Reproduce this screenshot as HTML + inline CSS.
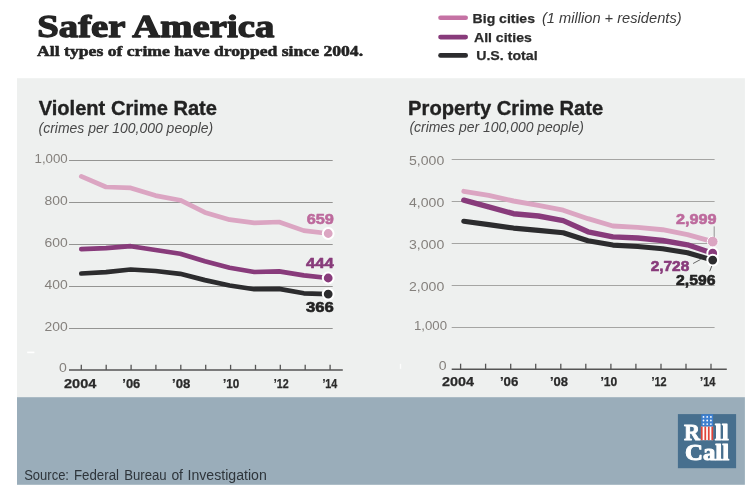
<!DOCTYPE html>
<html><head><meta charset="utf-8"><title>Safer America</title>
<style>html,body{margin:0;padding:0;background:#fff;}body{width:748px;height:487px;overflow:hidden;font-family:"Liberation Sans",sans-serif;}</style></head>
<body>
<svg width="748" height="487" viewBox="0 0 748 487" style="display:block;will-change:transform">
<rect x="17" y="78.2" width="727.9" height="319.5" fill="#eef0ef"/>
<rect x="17" y="397.2" width="727.9" height="87.6" fill="#9aadba"/>
<text x="37.3" y="36.5" textLength="237.0" lengthAdjust="spacingAndGlyphs" stroke="#242424" stroke-width="1.3" stroke-linejoin="round" font-family="'Liberation Serif', serif" font-size="32.3" font-weight="bold" font-style="normal" fill="#242424" text-anchor="start">Safer America</text>
<text x="37.1" y="55.8" textLength="326.0" lengthAdjust="spacingAndGlyphs" stroke="#242424" stroke-width="0.55" stroke-linejoin="round" font-family="'Liberation Serif', serif" font-size="15.5" font-weight="bold" font-style="normal" fill="#242424" text-anchor="start">All types of crime have dropped since 2004.</text>
<line x1="440.5" y1="17.8" x2="465.7" y2="17.8" stroke="#c572a4" stroke-width="4.6" stroke-linecap="round"/>
<line x1="440.5" y1="37.1" x2="465.7" y2="37.1" stroke="#883b7b" stroke-width="4.6" stroke-linecap="round"/>
<line x1="440.5" y1="55.4" x2="465.7" y2="55.4" stroke="#2c2c2e" stroke-width="4.6" stroke-linecap="round"/>
<text x="472.6" y="22.5" textLength="62.4" lengthAdjust="spacingAndGlyphs" stroke="#2a2a2a" stroke-width="0.25" stroke-linejoin="round" font-family="'Liberation Sans', sans-serif" font-size="13.5" font-weight="bold" font-style="normal" fill="#2a2a2a" text-anchor="start">Big cities</text>
<text x="541.9" y="22.5" textLength="139.7" lengthAdjust="spacingAndGlyphs" font-family="'Liberation Sans', sans-serif" font-size="15" font-weight="normal" font-style="italic" fill="#3c3c3c" text-anchor="start">(1 million + residents)</text>
<text x="474" y="41.6" textLength="57.8" lengthAdjust="spacingAndGlyphs" stroke="#2a2a2a" stroke-width="0.25" stroke-linejoin="round" font-family="'Liberation Sans', sans-serif" font-size="13.5" font-weight="bold" font-style="normal" fill="#2a2a2a" text-anchor="start">All cities</text>
<text x="476.2" y="59.6" textLength="61.4" lengthAdjust="spacingAndGlyphs" stroke="#2a2a2a" stroke-width="0.25" stroke-linejoin="round" font-family="'Liberation Sans', sans-serif" font-size="13.5" font-weight="bold" font-style="normal" fill="#2a2a2a" text-anchor="start">U.S. total</text>
<text x="38.7" y="114.6" textLength="178.3" lengthAdjust="spacingAndGlyphs" stroke="#222" stroke-width="0.35" stroke-linejoin="round" font-family="'Liberation Sans', sans-serif" font-size="20" font-weight="bold" font-style="normal" fill="#222" text-anchor="start">Violent Crime Rate</text>
<text x="38.6" y="132.8" textLength="174.6" lengthAdjust="spacingAndGlyphs" font-family="'Liberation Sans', sans-serif" font-size="14" font-weight="normal" font-style="italic" fill="#484848" text-anchor="start">(crimes per 100,000 people)</text>
<text x="408.1" y="114.5" textLength="195.2" lengthAdjust="spacingAndGlyphs" stroke="#222" stroke-width="0.35" stroke-linejoin="round" font-family="'Liberation Sans', sans-serif" font-size="20" font-weight="bold" font-style="normal" fill="#222" text-anchor="start">Property Crime Rate</text>
<text x="409.4" y="132.2" textLength="174.4" lengthAdjust="spacingAndGlyphs" font-family="'Liberation Sans', sans-serif" font-size="14" font-weight="normal" font-style="italic" fill="#484848" text-anchor="start">(crimes per 100,000 people)</text>
<line x1="69" y1="160.5" x2="332.7" y2="160.5" stroke="#949492" stroke-width="1"/>
<text x="34.5" y="162.5" textLength="33.2" lengthAdjust="spacingAndGlyphs" font-family="'Liberation Sans', sans-serif" font-size="12.5" font-weight="normal" font-style="normal" fill="#85817d" text-anchor="start">1,000</text>
<line x1="69" y1="202.5" x2="332.7" y2="202.5" stroke="#949492" stroke-width="1"/>
<text x="44.5" y="204.5" textLength="23.2" lengthAdjust="spacingAndGlyphs" font-family="'Liberation Sans', sans-serif" font-size="12.5" font-weight="normal" font-style="normal" fill="#85817d" text-anchor="start">800</text>
<line x1="69" y1="244.5" x2="332.7" y2="244.5" stroke="#949492" stroke-width="1"/>
<text x="44.5" y="246.5" textLength="23.2" lengthAdjust="spacingAndGlyphs" font-family="'Liberation Sans', sans-serif" font-size="12.5" font-weight="normal" font-style="normal" fill="#85817d" text-anchor="start">600</text>
<line x1="69" y1="286.5" x2="332.7" y2="286.5" stroke="#949492" stroke-width="1"/>
<text x="44.5" y="288.5" textLength="23.2" lengthAdjust="spacingAndGlyphs" font-family="'Liberation Sans', sans-serif" font-size="12.5" font-weight="normal" font-style="normal" fill="#85817d" text-anchor="start">400</text>
<line x1="69" y1="328.5" x2="332.7" y2="328.5" stroke="#949492" stroke-width="1"/>
<text x="44.5" y="330.5" textLength="23.2" lengthAdjust="spacingAndGlyphs" font-family="'Liberation Sans', sans-serif" font-size="12.5" font-weight="normal" font-style="normal" fill="#85817d" text-anchor="start">200</text>
<text x="59" y="372.3" textLength="7.8" lengthAdjust="spacingAndGlyphs" font-family="'Liberation Sans', sans-serif" font-size="12.5" font-weight="normal" font-style="normal" fill="#85817d" text-anchor="start">0</text>
<line x1="69" y1="369.9" x2="342.8" y2="369.9" stroke="#555" stroke-width="1.5"/>
<line x1="81.3" y1="364.8" x2="81.3" y2="369.9" stroke="#555" stroke-width="1.3"/>
<line x1="106.2" y1="364.8" x2="106.2" y2="369.9" stroke="#555" stroke-width="1.3"/>
<line x1="131.1" y1="364.8" x2="131.1" y2="369.9" stroke="#555" stroke-width="1.3"/>
<line x1="155.9" y1="364.8" x2="155.9" y2="369.9" stroke="#555" stroke-width="1.3"/>
<line x1="180.8" y1="364.8" x2="180.8" y2="369.9" stroke="#555" stroke-width="1.3"/>
<line x1="205.7" y1="364.8" x2="205.7" y2="369.9" stroke="#555" stroke-width="1.3"/>
<line x1="230.6" y1="364.8" x2="230.6" y2="369.9" stroke="#555" stroke-width="1.3"/>
<line x1="255.5" y1="364.8" x2="255.5" y2="369.9" stroke="#555" stroke-width="1.3"/>
<line x1="280.3" y1="364.8" x2="280.3" y2="369.9" stroke="#555" stroke-width="1.3"/>
<line x1="305.2" y1="364.8" x2="305.2" y2="369.9" stroke="#555" stroke-width="1.3"/>
<line x1="330.1" y1="364.8" x2="330.1" y2="369.9" stroke="#555" stroke-width="1.3"/>
<text x="64" y="388.3" textLength="32.3" lengthAdjust="spacingAndGlyphs" stroke="#2a2a2a" stroke-width="0.25" stroke-linejoin="round" font-family="'Liberation Sans', sans-serif" font-size="13" font-weight="bold" font-style="normal" fill="#2a2a2a" text-anchor="start">2004</text>
<text x="122.3" y="388.3" textLength="18.0" lengthAdjust="spacingAndGlyphs" stroke="#2a2a2a" stroke-width="0.25" stroke-linejoin="round" font-family="'Liberation Sans', sans-serif" font-size="13" font-weight="bold" font-style="normal" fill="#2a2a2a" text-anchor="start">’06</text>
<text x="172.1" y="388.3" textLength="18.3" lengthAdjust="spacingAndGlyphs" stroke="#2a2a2a" stroke-width="0.25" stroke-linejoin="round" font-family="'Liberation Sans', sans-serif" font-size="13" font-weight="bold" font-style="normal" fill="#2a2a2a" text-anchor="start">’08</text>
<text x="223" y="388.3" textLength="16.3" lengthAdjust="spacingAndGlyphs" stroke="#2a2a2a" stroke-width="0.25" stroke-linejoin="round" font-family="'Liberation Sans', sans-serif" font-size="13" font-weight="bold" font-style="normal" fill="#2a2a2a" text-anchor="start">’10</text>
<text x="273.8" y="388.3" textLength="14.9" lengthAdjust="spacingAndGlyphs" stroke="#2a2a2a" stroke-width="0.25" stroke-linejoin="round" font-family="'Liberation Sans', sans-serif" font-size="13" font-weight="bold" font-style="normal" fill="#2a2a2a" text-anchor="start">’12</text>
<text x="322.4" y="388.3" textLength="14.9" lengthAdjust="spacingAndGlyphs" stroke="#2a2a2a" stroke-width="0.25" stroke-linejoin="round" font-family="'Liberation Sans', sans-serif" font-size="13" font-weight="bold" font-style="normal" fill="#2a2a2a" text-anchor="start">’14</text>
<line x1="451.7" y1="159.5" x2="714.6" y2="159.5" stroke="#a5a5a3" stroke-width="1"/>
<text x="409.0" y="164.9" textLength="35.2" lengthAdjust="spacingAndGlyphs" font-family="'Liberation Sans', sans-serif" font-size="12.5" font-weight="normal" font-style="normal" fill="#85817d" text-anchor="start">5,000</text>
<line x1="451.7" y1="201.5" x2="714.6" y2="201.5" stroke="#a5a5a3" stroke-width="1"/>
<text x="409.0" y="206.9" textLength="35.2" lengthAdjust="spacingAndGlyphs" font-family="'Liberation Sans', sans-serif" font-size="12.5" font-weight="normal" font-style="normal" fill="#85817d" text-anchor="start">4,000</text>
<line x1="451.7" y1="243.5" x2="714.6" y2="243.5" stroke="#a5a5a3" stroke-width="1"/>
<text x="409.0" y="248.9" textLength="35.2" lengthAdjust="spacingAndGlyphs" font-family="'Liberation Sans', sans-serif" font-size="12.5" font-weight="normal" font-style="normal" fill="#85817d" text-anchor="start">3,000</text>
<line x1="451.7" y1="285.5" x2="714.6" y2="285.5" stroke="#a5a5a3" stroke-width="1"/>
<text x="409.0" y="290.9" textLength="35.2" lengthAdjust="spacingAndGlyphs" font-family="'Liberation Sans', sans-serif" font-size="12.5" font-weight="normal" font-style="normal" fill="#85817d" text-anchor="start">2,000</text>
<line x1="451.7" y1="327.5" x2="714.6" y2="327.5" stroke="#a5a5a3" stroke-width="1"/>
<text x="414.0" y="329.6" textLength="33" lengthAdjust="spacingAndGlyphs" font-family="'Liberation Sans', sans-serif" font-size="12.5" font-weight="normal" font-style="normal" fill="#85817d" text-anchor="start">1,000</text>
<text x="438.8" y="369.7" textLength="7.8" lengthAdjust="spacingAndGlyphs" font-family="'Liberation Sans', sans-serif" font-size="12.5" font-weight="normal" font-style="normal" fill="#85817d" text-anchor="start">0</text>
<line x1="451.7" y1="369.15" x2="726.8" y2="369.15" stroke="#555" stroke-width="1.5"/>
<line x1="460.6" y1="363.7" x2="460.6" y2="369.15" stroke="#555" stroke-width="1.3"/>
<line x1="485.6" y1="363.7" x2="485.6" y2="369.15" stroke="#555" stroke-width="1.3"/>
<line x1="510.7" y1="363.7" x2="510.7" y2="369.15" stroke="#555" stroke-width="1.3"/>
<line x1="535.7" y1="363.7" x2="535.7" y2="369.15" stroke="#555" stroke-width="1.3"/>
<line x1="560.8" y1="363.7" x2="560.8" y2="369.15" stroke="#555" stroke-width="1.3"/>
<line x1="585.8" y1="363.7" x2="585.8" y2="369.15" stroke="#555" stroke-width="1.3"/>
<line x1="610.9" y1="363.7" x2="610.9" y2="369.15" stroke="#555" stroke-width="1.3"/>
<line x1="635.9" y1="363.7" x2="635.9" y2="369.15" stroke="#555" stroke-width="1.3"/>
<line x1="661.0" y1="363.7" x2="661.0" y2="369.15" stroke="#555" stroke-width="1.3"/>
<line x1="686.0" y1="363.7" x2="686.0" y2="369.15" stroke="#555" stroke-width="1.3"/>
<line x1="711.0" y1="363.7" x2="711.0" y2="369.15" stroke="#555" stroke-width="1.3"/>
<text x="442.1" y="386.3" textLength="32.0" lengthAdjust="spacingAndGlyphs" stroke="#2a2a2a" stroke-width="0.25" stroke-linejoin="round" font-family="'Liberation Sans', sans-serif" font-size="13" font-weight="bold" font-style="normal" fill="#2a2a2a" text-anchor="start">2004</text>
<text x="499.9" y="386.3" textLength="18.5" lengthAdjust="spacingAndGlyphs" stroke="#2a2a2a" stroke-width="0.25" stroke-linejoin="round" font-family="'Liberation Sans', sans-serif" font-size="13" font-weight="bold" font-style="normal" fill="#2a2a2a" text-anchor="start">’06</text>
<text x="549.9" y="386.3" textLength="18.1" lengthAdjust="spacingAndGlyphs" stroke="#2a2a2a" stroke-width="0.25" stroke-linejoin="round" font-family="'Liberation Sans', sans-serif" font-size="13" font-weight="bold" font-style="normal" fill="#2a2a2a" text-anchor="start">’08</text>
<text x="600.5" y="386.3" textLength="16.8" lengthAdjust="spacingAndGlyphs" stroke="#2a2a2a" stroke-width="0.25" stroke-linejoin="round" font-family="'Liberation Sans', sans-serif" font-size="13" font-weight="bold" font-style="normal" fill="#2a2a2a" text-anchor="start">’10</text>
<text x="651.5" y="386.3" textLength="15.2" lengthAdjust="spacingAndGlyphs" stroke="#2a2a2a" stroke-width="0.25" stroke-linejoin="round" font-family="'Liberation Sans', sans-serif" font-size="13" font-weight="bold" font-style="normal" fill="#2a2a2a" text-anchor="start">’12</text>
<text x="700.1" y="386.3" textLength="15.4" lengthAdjust="spacingAndGlyphs" stroke="#2a2a2a" stroke-width="0.25" stroke-linejoin="round" font-family="'Liberation Sans', sans-serif" font-size="13" font-weight="bold" font-style="normal" fill="#2a2a2a" text-anchor="start">’14</text>
<path d="M81.3,176.4 L106.0,187.0 L130.7,187.9 L155.5,195.6 L180.2,200.2 L204.9,212.4 L229.6,219.7 L254.3,222.8 L279.1,222.0 L303.8,230.6 L328.2,233.5" fill="none" stroke="#dba5c2" stroke-width="4.7" stroke-linecap="round" stroke-linejoin="round"/><circle cx="328.2" cy="233.5" r="5.4" fill="#dba5c2" stroke="#fff" stroke-width="2.0"/>
<path d="M81.3,249.1 L106.0,248.2 L130.7,246.2 L155.5,250.0 L180.2,253.7 L204.9,261.2 L229.6,267.7 L254.3,272.0 L279.1,271.4 L303.8,275.4 L328.2,278.0" fill="none" stroke="#883b7b" stroke-width="4.7" stroke-linecap="round" stroke-linejoin="round"/><circle cx="328.2" cy="278.0" r="5.4" fill="#883b7b" stroke="#fff" stroke-width="2.0"/>
<path d="M81.3,273.5 L106.0,272.1 L130.7,269.5 L155.5,271.0 L180.2,273.8 L204.9,280.1 L229.6,285.5 L254.3,289.2 L279.1,288.9 L303.8,293.3 L328.2,294.1" fill="none" stroke="#2c2c2e" stroke-width="4.7" stroke-linecap="round" stroke-linejoin="round"/><circle cx="328.2" cy="294.1" r="5.4" fill="#2c2c2e" stroke="#fff" stroke-width="2.0"/>
<path d="M463.8,191.3 L488.7,195.3 L513.5,201.0 L538.4,205.4 L563.2,210.2 L588.0,218.7 L612.9,226.0 L637.8,227.4 L662.6,229.7 L687.5,234.6 L712.7,241.6" fill="none" stroke="#dba5c2" stroke-width="4.9" stroke-linecap="round" stroke-linejoin="round"/><circle cx="712.7" cy="241.6" r="5.4" fill="#dba5c2" stroke="#fff" stroke-width="1.0"/>
<path d="M463.8,200.2 L488.7,206.8 L513.5,213.7 L538.4,216.0 L563.2,220.6 L588.0,231.8 L612.9,236.9 L637.8,238.0 L662.6,240.5 L687.5,244.8 L712.7,253.2" fill="none" stroke="#883b7b" stroke-width="5.4" stroke-linecap="round" stroke-linejoin="round"/><circle cx="712.7" cy="253.2" r="5.4" fill="#883b7b" stroke="#fff" stroke-width="2.0"/>
<path d="M463.8,221.2 L488.7,224.6 L513.5,228.1 L538.4,230.4 L563.2,232.7 L588.0,240.7 L612.9,245.1 L637.8,246.5 L662.6,248.8 L687.5,252.8 L712.7,260.1" fill="none" stroke="#2c2c2e" stroke-width="5.1" stroke-linecap="round" stroke-linejoin="round"/><circle cx="712.7" cy="260.1" r="5.4" fill="#2c2c2e" stroke="#fff" stroke-width="2.0"/>
<text x="306.7" y="223.7" textLength="27.2" lengthAdjust="spacingAndGlyphs" stroke="#bd6a9d" stroke-width="0.6" stroke-linejoin="round" font-family="'Liberation Sans', sans-serif" font-size="14.3" font-weight="bold" font-style="normal" fill="#bd6a9d" text-anchor="start">659</text>
<text x="306.1" y="267.7" textLength="27.8" lengthAdjust="spacingAndGlyphs" stroke="#883b7b" stroke-width="0.6" stroke-linejoin="round" font-family="'Liberation Sans', sans-serif" font-size="14.3" font-weight="bold" font-style="normal" fill="#883b7b" text-anchor="start">444</text>
<text x="306.1" y="311.6" textLength="27.8" lengthAdjust="spacingAndGlyphs" stroke="#222" stroke-width="0.6" stroke-linejoin="round" font-family="'Liberation Sans', sans-serif" font-size="14.3" font-weight="bold" font-style="normal" fill="#222" text-anchor="start">366</text>
<text x="675.9" y="223.5" textLength="40.6" lengthAdjust="spacingAndGlyphs" stroke="#bd6a9d" stroke-width="0.6" stroke-linejoin="round" font-family="'Liberation Sans', sans-serif" font-size="14.3" font-weight="bold" font-style="normal" fill="#bd6a9d" text-anchor="start">2,999</text>
<text x="650.7" y="270.5" textLength="38.6" lengthAdjust="spacingAndGlyphs" stroke="#883b7b" stroke-width="0.6" stroke-linejoin="round" font-family="'Liberation Sans', sans-serif" font-size="14.5" font-weight="bold" font-style="normal" fill="#883b7b" text-anchor="start">2,728</text>
<text x="676.0" y="284.5" textLength="39.4" lengthAdjust="spacingAndGlyphs" stroke="#222" stroke-width="0.6" stroke-linejoin="round" font-family="'Liberation Sans', sans-serif" font-size="14.3" font-weight="bold" font-style="normal" fill="#222" text-anchor="start">2,596</text>
<line x1="714.2" y1="226.4" x2="714.2" y2="237" stroke="#8a8a8a" stroke-width="0.9"/>
<line x1="693.1" y1="263.5" x2="700.5" y2="259.5" stroke="#555" stroke-width="0.9"/>
<line x1="709.7" y1="271.3" x2="711.8" y2="266" stroke="#444" stroke-width="0.9"/>
<rect x="27.2" y="351.6" width="7.2" height="1.6" fill="#fff"/>
<rect x="399.8" y="363.8" width="1.4" height="5" fill="#fff" opacity="0.8"/>
<text x="24.2" y="479.95" textLength="44.8" lengthAdjust="spacingAndGlyphs" font-family="'Liberation Sans', sans-serif" font-size="13.8" font-weight="normal" font-style="normal" fill="#2e353b" text-anchor="start">Source:</text>
<text x="73.9" y="479.95" textLength="45.1" lengthAdjust="spacingAndGlyphs" font-family="'Liberation Sans', sans-serif" font-size="13.8" font-weight="normal" font-style="normal" fill="#2e353b" text-anchor="start">Federal</text>
<text x="124.2" y="479.95" textLength="42.5" lengthAdjust="spacingAndGlyphs" font-family="'Liberation Sans', sans-serif" font-size="13.8" font-weight="normal" font-style="normal" fill="#2e353b" text-anchor="start">Bureau</text>
<text x="171.4" y="479.95" textLength="11.6" lengthAdjust="spacingAndGlyphs" font-family="'Liberation Sans', sans-serif" font-size="13.8" font-weight="normal" font-style="normal" fill="#2e353b" text-anchor="start">of</text>
<text x="187.5" y="479.95" textLength="79.3" lengthAdjust="spacingAndGlyphs" font-family="'Liberation Sans', sans-serif" font-size="13.8" font-weight="normal" font-style="normal" fill="#2e353b" text-anchor="start">Investigation</text>
<rect x="677.9" y="414.1" width="58.2" height="54.1" fill="#476f8e"/>
<text x="683.9" y="440.0" textLength="16.0" lengthAdjust="spacingAndGlyphs" stroke="#fff" stroke-width="0.9" stroke-linejoin="round" font-family="'Liberation Serif', serif" font-size="24" font-weight="bold" font-style="normal" fill="#fff" text-anchor="start">R</text>
<text x="714.8" y="440.0" textLength="14.0" lengthAdjust="spacingAndGlyphs" stroke="#fff" stroke-width="0.9" stroke-linejoin="round" font-family="'Liberation Serif', serif" font-size="23.3" font-weight="bold" font-style="normal" fill="#fff" text-anchor="start">ll</text>
<text x="684.9" y="460.2" textLength="44.3" lengthAdjust="spacingAndGlyphs" stroke="#fff" stroke-width="1.0" stroke-linejoin="round" font-family="'Liberation Serif', serif" font-size="23.3" font-weight="bold" font-style="normal" fill="#fff" text-anchor="start">Call</text>
<rect x="701.3" y="414.3" width="11.8" height="12.4" fill="#3d7fd0"/>
<circle cx="703.5" cy="416.9" r="0.9" fill="#fff"/>
<circle cx="707.2" cy="416.9" r="0.9" fill="#fff"/>
<circle cx="710.9" cy="416.9" r="0.9" fill="#fff"/>
<circle cx="703.5" cy="420.5" r="0.9" fill="#fff"/>
<circle cx="707.2" cy="420.5" r="0.9" fill="#fff"/>
<circle cx="710.9" cy="420.5" r="0.9" fill="#fff"/>
<circle cx="703.5" cy="424.1" r="0.9" fill="#fff"/>
<circle cx="707.2" cy="424.1" r="0.9" fill="#fff"/>
<circle cx="710.9" cy="424.1" r="0.9" fill="#fff"/>
<rect x="700.9" y="426.6" width="12.2" height="13.6" fill="#fff"/>
<rect x="700.90" y="426.6" width="1.75" height="13.6" fill="#e0453a"/>
<rect x="704.40" y="426.6" width="1.75" height="13.6" fill="#e0453a"/>
<rect x="707.90" y="426.6" width="1.75" height="13.6" fill="#e0453a"/>
<rect x="711.40" y="426.6" width="1.75" height="13.6" fill="#e0453a"/>
</svg>
</body></html>
